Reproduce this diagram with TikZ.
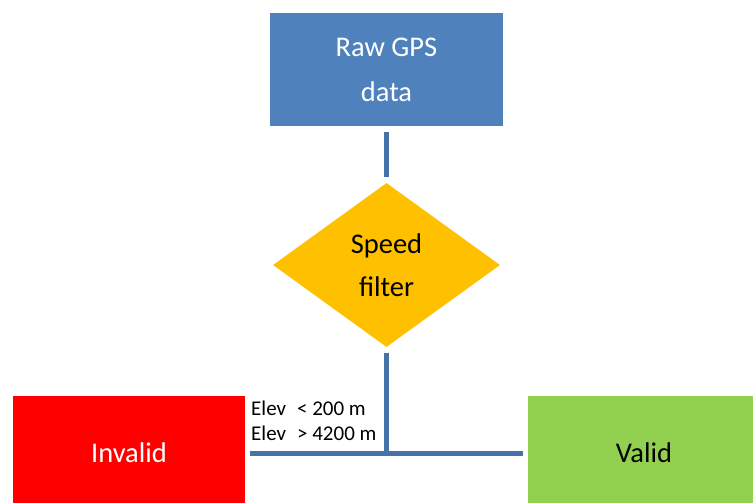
\documentclass[tikz,border=0pt]{standalone}
\usepackage{fontspec}
\setmainfont{Carlito}
\usetikzlibrary{shapes.geometric}
\definecolor{boxblue}{HTML}{4F81BD}
\definecolor{linkblue}{HTML}{4672A8}
\definecolor{gold}{HTML}{FFC000}
\definecolor{okgreen}{HTML}{92D050}
\definecolor{badred}{HTML}{FF0000}
\begin{document}
\begin{tikzpicture}[x=1pt,y=-1pt,
  box/.style={rectangle, inner sep=0pt, align=center, font=\fontsize{28.5}{45}\selectfont},
  decision/.style={diamond, inner sep=0pt, align=center, font=\fontsize{28.5}{43}\selectfont},
  link/.style={draw=linkblue, line width=5pt},
  cond/.style={inner sep=0pt, align=left, font=\fontsize{21}{25}\selectfont}]
\clip (0,0) rectangle (753,503);
\node[box, fill=boxblue, text=white, minimum width=233pt, minimum height=113pt] (raw) at (386.5,69.5) {Raw GPS\\data};
\node[decision, fill=gold, text=black, minimum width=227pt, minimum height=164pt] (speed) at (386.5,265) {Speed\\filter};
\node[box, fill=badred, text=white, minimum width=232pt, minimum height=114pt] (invalid) at (129,453) {Invalid};
\node[box, fill=okgreen, text=black, minimum width=232pt, minimum height=114pt] (valid) at (644,453) {Valid};
\node[cond, anchor=base west] (elev) at (251,440) {Elev\hspace{11pt}< 200 m\\Elev\hspace{11pt}> 4200 m};
\coordinate (j) at (speed.south |- invalid.east);
\draw[link, shorten <=6pt, shorten >=6pt] (raw.south) -- (speed.north);
\draw[link, shorten <=6pt] (speed.south) -- (j);
\draw[link, shorten <=5pt, shorten >=5pt] (invalid.east) -- (valid.west);
\end{tikzpicture}
\end{document}
